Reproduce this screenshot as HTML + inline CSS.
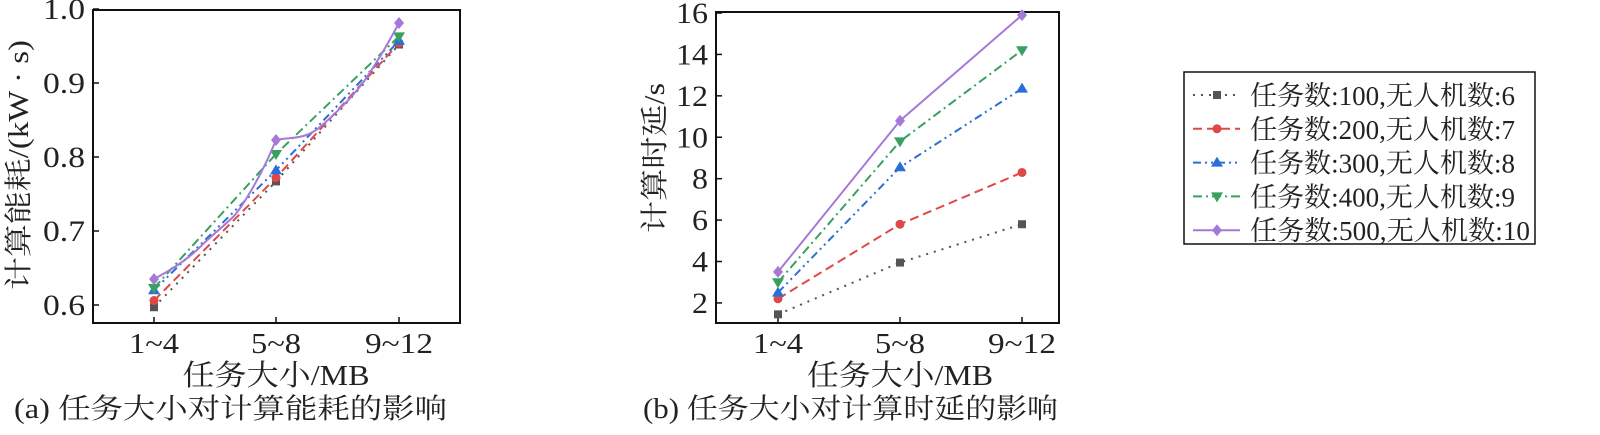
<!DOCTYPE html>
<html><head><meta charset="utf-8"><style>
body{margin:0;background:#fff;}
svg text{font-family:"Liberation Serif","Noto Serif CJK SC",serif;fill:#222;}
</style></head><body>
<svg id="s" width="1600" height="430" xmlns="http://www.w3.org/2000/svg"></svg>
<script>
const s=document.getElementById('s');let h='';
const C=['#555','#e04848','#2a6fd6','#3aa060','#a679d8'];
const D=['2,6','9,5','8,4,2,4,2,4','9,4,2,4',''];
function mk(i,x,y){const c=C[i];
 if(i==0)return `<rect x="${x-4}" y="${y-4}" width="8" height="8" fill="${c}"/>`;
 if(i==1)return `<circle cx="${x}" cy="${y}" r="4.5" fill="${c}"/>`;
 if(i==2)return `<polygon points="${x},${y-6} ${x+6},${y+4} ${x-6},${y+4}" fill="${c}"/>`;
 if(i==3)return `<polygon points="${x},${y+6} ${x+6},${y-4} ${x-6},${y-4}" fill="${c}"/>`;
 return `<polygon points="${x},${y-6} ${x+5},${y} ${x},${y+6} ${x-5},${y}" fill="${c}"/>`;}
const T=(x,y,fs,t,len,anc,extra)=>`<text x="${x}" y="${y}" font-size="${fs}" text-anchor="${anc||'start'}" ${len?`textLength="${len}" lengthAdjust="spacingAndGlyphs"`:''} ${extra||''}>${t}</text>`;
// chart A
const xa=[154,276,399];const ya=v=>9+(1-v)*740;
const A=[[.597,.767,.952],[.606,.772,.954],[.62,.782,.957],[.623,.804,.963],[.635,.823,.981]];
h+=`<rect x="93" y="10" width="367" height="313" fill="none" stroke="#111" stroke-width="2"/>`;
[1.0,.9,.8,.7,.6].forEach(v=>{const y=ya(v);h+=`<line x1="93" x2="99" y1="${y}" y2="${y}" stroke="#111" stroke-width="1.5"/>`+T(85,y+10,30,v.toFixed(1),42,'end');});
['1~4','5~8','9~12'].forEach((t,i)=>{h+=`<line x1="${xa[i]}" x2="${xa[i]}" y1="323" y2="317" stroke="#111" stroke-width="1.5"/>`+T(xa[i],353,28,t,[50,50,68][i],'middle');});
A.forEach((d,i)=>{let p;const y=d.map(ya);
 if(i==4)p=`M154,279 C175,268 190,257 200,247 S225,225 233,217 S262,175 276,140 C290,137 305,140 320,127 S355,95 367,77 S390,40 399,23`;
 else p='M'+d.map((v,j)=>xa[j]+','+ya(v)).join(' L');
 h+=`<path d="${p}" fill="none" stroke="${C[i]}" stroke-width="2" stroke-dasharray="${D[i]}"/>`;
 d.forEach((v,j)=>h+=mk(i,xa[j],ya(v)));});
h+=T(0,0,28,'计算能耗/(kW · s)',250,'middle','transform="translate(28,165) rotate(-90)"');
h+=T(276,385,29,'任务大小/MB',187,'middle');
h+=T(14,418,28,'(a) 任务大小对计算能耗的影响',433);
// chart B
const xb=[778,900,1022];const yb=v=>13+(16-v)*20.71;
const B=[[1.45,3.95,5.8],[2.2,5.8,8.3],[2.5,8.55,12.35],[3.0,9.8,14.2],[3.5,10.8,15.9]];
h+=`<rect x="716" y="12" width="343" height="311" fill="none" stroke="#111" stroke-width="2"/>`;
[16,14,12,10,8,6,4,2].forEach(v=>{const y=yb(v);h+=`<line x1="716" x2="722" y1="${y}" y2="${y}" stroke="#111" stroke-width="1.5"/>`+T(708,y+10,30,v,v>=10?32:16,'end');});
['1~4','5~8','9~12'].forEach((t,i)=>{h+=`<line x1="${xb[i]}" x2="${xb[i]}" y1="323" y2="317" stroke="#111" stroke-width="1.5"/>`+T(xb[i],353,28,t,[50,50,68][i],'middle');});
B.forEach((d,i)=>{h+=`<path d="M${d.map((v,j)=>xb[j]+','+yb(v)).join(' L')}" fill="none" stroke="${C[i]}" stroke-width="2" stroke-dasharray="${D[i]}"/>`;d.forEach((v,j)=>h+=mk(i,xb[j],yb(v)));});
h+=T(0,0,28,'计算时延/s',150,'middle','transform="translate(664,158) rotate(-90)"');
h+=T(900,385,29,'任务大小/MB',186,'middle');
h+=T(643,418,28,'(b) 任务大小对计算时延的影响',415);
// legend
h+=`<rect x="1184" y="72" width="351" height="172" fill="#fff" stroke="#111" stroke-width="1.5"/>`;
const L=['任务数:100,无人机数:6','任务数:200,无人机数:7','任务数:300,无人机数:8','任务数:400,无人机数:9','任务数:500,无人机数:10'];
L.forEach((t,i)=>{const y=95+i*33.8;h+=`<line x1="1193" x2="1240" y1="${y}" y2="${y}" stroke="${C[i]}" stroke-width="2" stroke-dasharray="${D[i]}"/>`+mk(i,1217,y)+T(1250,y+10,27,t,i==4?280:265);});
s.innerHTML=h;
</script>
</body></html>
